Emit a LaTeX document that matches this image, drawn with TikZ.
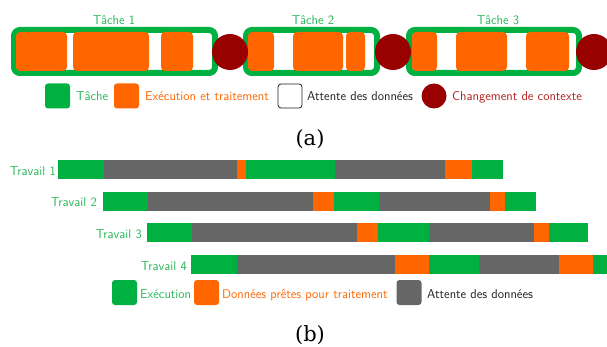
\documentclass[tikz,border=0pt]{standalone}
\usepackage{fontspec}
\newfontfamily\capfont{DejaVu Serif}
\definecolor{tgreen}{RGB}{0,176,64}
\definecolor{tgreentext}{RGB}{40,182,88}
\definecolor{torange}{RGB}{255,102,0}
\definecolor{tred}{RGB}{153,0,0}
\definecolor{tredtext}{RGB}{178,30,30}
\definecolor{tgrey}{RGB}{102,102,102}
\definecolor{ttext}{RGB}{30,30,30}
\newcommand\segbox[6]{\node[#6, minimum width={#3pt-#2pt}, minimum height={#5pt-#4pt}] (#1) at ({(#2+#3)/2},{(#4+#5)/2}) {};}
\tikzset{
  seg/.style={inner sep=0pt, outer sep=0pt, draw=none},
  taskbox/.style={seg, draw=tgreen, line width=6pt, rounded corners=6pt},
  exec/.style={seg, fill=torange, rounded corners=4pt},
  ctx/.style={circle, fill=tred, inner sep=0pt, minimum size=36pt},
  lbl/.style={font=\sffamily\fontsize{12.8}{14}\selectfont, inner sep=0pt},
  legsq/.style={seg, minimum size=25pt, rounded corners=3pt},
  bgreen/.style={seg, fill=tgreen},
  bgrey/.style={seg, fill=tgrey},
  borange/.style={seg, fill=torange},
  captxt/.style={font=\capfont\fontsize{21}{24}\selectfont, inner sep=0pt}
}
\begin{document}
\begin{tikzpicture}[x=1pt,y=-1pt]
\useasboundingbox (0,0) rectangle (607,347);
% ---- (a) ----
\segbox{t1}{14}{215}{30}{73}{taskbox}
\segbox{t2}{246}{377}{30}{73}{taskbox}
\segbox{t3}{409}{579}{30}{73}{taskbox}
\segbox{e11}{16}{67}{32}{71}{exec}
\segbox{e12}{73}{149}{32}{71}{exec}
\segbox{e13}{161}{193}{32}{71}{exec}
\segbox{e21}{248}{274}{32}{71}{exec}
\segbox{e22}{293}{343}{32}{71}{exec}
\segbox{e23}{346}{365}{32}{71}{exec}
\segbox{e31}{412}{437}{32}{71}{exec}
\segbox{e32}{456}{507}{32}{71}{exec}
\segbox{e33}{526}{569}{32}{71}{exec}
\node[ctx] (c1) at (230,52) {};
\node[ctx] (c2) at (393,52) {};
\node[ctx] (c3) at (594,52) {};
\node[lbl, text=tgreentext, anchor=base] (lt1) at (114,25) {Tâche 1};
\node[lbl, text=tgreentext, anchor=base] (lt2) at (313,25) {Tâche 2};
\node[lbl, text=tgreentext, anchor=base] (lt3) at (498,25) {Tâche 3};
% legend (a)
\node[legsq, fill=tgreen] (la1) at (57.5,96) {};
\node[lbl, text=tgreentext, anchor=base west] (la1t) at (76,101) {Tâche};
\node[legsq, fill=torange] (la2) at (126.5,96) {};
\node[lbl, text=torange, anchor=base west] (la2t) at (145,101) {Exécution et traitement};
\node[legsq, draw=ttext, line width=0.8pt, fill=white, minimum size=24pt] (la3) at (290,96) {};
\node[lbl, text=ttext, anchor=base west] (la3t) at (307,101) {Attente des données};
\node[circle, fill=tred, inner sep=0pt, minimum size=25pt] (la4) at (434,96) {};
\node[lbl, text=tredtext, anchor=base west] (la4t) at (452,101) {Changement de contexte};
\node[captxt] (capa) at (310,139) {(a)};
% ---- (b) ----
% Travail 1
\segbox{a1}{58}{104}{160}{179}{bgreen}
\segbox{a2}{104}{237}{160}{179}{bgrey}
\segbox{a3}{237}{246}{160}{179}{borange}
\segbox{a4}{246}{335}{160}{179}{bgreen}
\segbox{a5}{335}{445}{160}{179}{bgrey}
\segbox{a6}{445}{472}{160}{179}{borange}
\segbox{a7}{472}{503}{160}{179}{bgreen}
% Travail 2
\segbox{b1}{103}{148}{192}{211}{bgreen}
\segbox{b2}{148}{313}{192}{211}{bgrey}
\segbox{b3}{313}{334}{192}{211}{borange}
\segbox{b4}{334}{379}{192}{211}{bgreen}
\segbox{b5}{379}{490}{192}{211}{bgrey}
\segbox{b6}{490}{505}{192}{211}{borange}
\segbox{b7}{505}{536}{192}{211}{bgreen}
% Travail 3
\segbox{c1}{147}{192}{223}{242}{bgreen}
\segbox{c2}{192}{357}{223}{242}{bgrey}
\segbox{c3}{357}{378}{223}{242}{borange}
\segbox{c4}{378}{429}{223}{242}{bgreen}
\segbox{c5}{429}{534}{223}{242}{bgrey}
\segbox{c6}{534}{549}{223}{242}{borange}
\segbox{c7}{549}{588}{223}{242}{bgreen}
% Travail 4
\segbox{d1}{191}{237}{255}{274}{bgreen}
\segbox{d2}{237}{395}{255}{274}{bgrey}
\segbox{d3}{395}{429}{255}{274}{borange}
\segbox{d4}{429}{479}{255}{274}{bgreen}
\segbox{d5}{479}{559}{255}{274}{bgrey}
\segbox{d6}{559}{593}{255}{274}{borange}
\segbox{d7}{593}{612}{255}{274}{bgreen}
\node[lbl, text=tgreentext, anchor=base east] (w1) at (56,176) {Travail 1};
\node[lbl, text=tgreentext, anchor=base east] (w2) at (97,207) {Travail 2};
\node[lbl, text=tgreentext, anchor=base east] (w3) at (142,239) {Travail 3};
\node[lbl, text=tgreentext, anchor=base east] (w4) at (187,270) {Travail 4};
% legend (b)
\node[legsq, fill=tgreen] (lb1) at (124.5,292.5) {};
\node[lbl, text=tgreentext, anchor=base west] (lb1t) at (140,298) {Exécution};
\node[legsq, fill=torange] (lb2) at (206.5,292.5) {};
\node[lbl, text=torange, anchor=base west] (lb2t) at (222,298) {Données prêtes pour traitement};
\node[legsq, fill=tgrey] (lb3) at (409,292.5) {};
\node[lbl, text=ttext, anchor=base west] (lb3t) at (427,298) {Attente des données};
\node[captxt] (capb) at (310,335) {(b)};
\end{tikzpicture}
\end{document}
